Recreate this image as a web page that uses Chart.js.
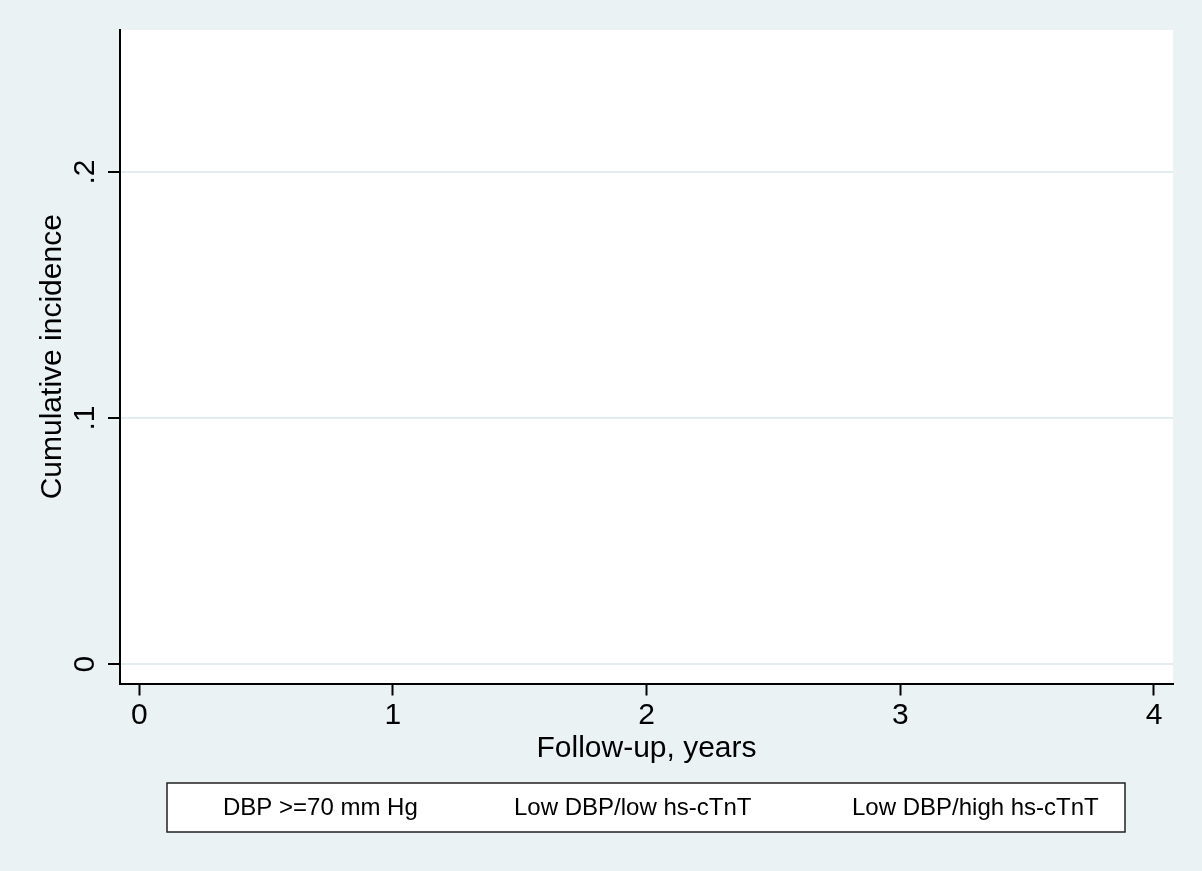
<!DOCTYPE html>
<html>
<head>
<meta charset="utf-8">
<title>Cumulative incidence</title>
<script src="https://cdn.jsdelivr.net/npm/chart.js@4/dist/chart.umd.min.js"></script>
<style>
  html, body { margin: 0; padding: 0; background: #eaf2f3; }
  canvas { display: block; }
</style>
</head>
<body>
<canvas id="cumChart" width="1202" height="871"></canvas>
<script>
// legend entries (the curves themselves are not drawn in the reference)
const groupLabels = ['DBP >=70 mm Hg', 'Low DBP/low hs-cTnT', 'Low DBP/high hs-cTnT'];
const dbpHigh = [];
const lowDbpLowTnt = [];
const lowDbpHighTnt = [];

const xTickVals = [0, 1, 2, 3, 4];
const xTickLabels = ['0', '1', '2', '3', '4'];
const yTickVals = [0, 0.1, 0.2];
const yTickLabels = ['0', '.1', '.2'];

const FONT = '"Liberation Sans", Arial, sans-serif';
const BG = '#eaf2f3';

// stata-ish background, rotated y labels and the boxed legend
const stataLook = {
    id: 'stataLook',
    beforeDraw(chart) {
        const { ctx, chartArea: a } = chart;
        ctx.save();
        ctx.fillStyle = BG;
        ctx.fillRect(0, 0, chart.width, chart.height);
        ctx.fillStyle = '#fff';
        ctx.fillRect(a.left, a.top, a.right - a.left, a.bottom - a.top);
        ctx.restore();
    },
    afterDraw(chart) {
        const { ctx } = chart;
        const y = chart.scales.y;
        ctx.save();
        ctx.fillStyle = '#000';
        ctx.font = '30px ' + FONT;
        ctx.textAlign = 'center';
        ctx.textBaseline = 'middle';
        y.ticks.forEach((t, i) => {
            ctx.save();
            ctx.translate(y.right - 34, y.getPixelForValue(t.value));
            ctx.rotate(-Math.PI / 2);
            ctx.fillText(yTickLabels[i], 0, 0);
            ctx.restore();
        });

        // legend box
        ctx.fillStyle = '#fff';
        ctx.fillRect(167, 783, 958, 49);
        ctx.strokeStyle = '#222';
        ctx.lineWidth = 1.5;
        ctx.strokeRect(167, 783, 958, 49);
        ctx.fillStyle = '#000';
        ctx.font = '24px ' + FONT;
        ctx.textAlign = 'left';
        const textX = [223, 514, 852];
        chart.data.datasets.forEach((ds, i) => {
            ctx.fillText(ds.label, textX[i], 808);
        });
        ctx.restore();
    }
};

new Chart(document.getElementById('cumChart'), {
    type: 'line',
    data: {
        datasets: [
            { label: groupLabels[0], data: dbpHigh, borderColor: '#1a476f', pointRadius: 0 },
            { label: groupLabels[1], data: lowDbpLowTnt, borderColor: '#90353b', pointRadius: 0 },
            { label: groupLabels[2], data: lowDbpHighTnt, borderColor: '#55752f', pointRadius: 0 }
        ]
    },
    options: {
        responsive: false,
        animation: false,
        devicePixelRatio: 1,
        layout: { padding: { left: 0, right: 29, top: 30, bottom: 0 } },
        plugins: {
            legend: { display: false },
            tooltip: { enabled: false }
        },
        scales: {
            x: {
                type: 'linear',
                min: -0.076,
                max: 4.075,
                afterBuildTicks: s => { s.ticks = xTickVals.map(v => ({ value: v })); },
                afterFit: s => { s.height = 187.5; },
                grid: { drawOnChartArea: false, drawTicks: true, tickLength: 12, tickColor: '#000', tickWidth: 2 },
                border: { display: true, color: '#000', width: 2 },
                ticks: {
                    color: '#000',
                    padding: 2.5,
                    maxRotation: 0,
                    font: { family: FONT, size: 30, lineHeight: 1.2 },
                    callback: (v, i) => xTickLabels[i]
                },
                title: {
                    display: true,
                    text: 'Follow-up, years',
                    color: '#000',
                    font: { family: FONT, size: 30, lineHeight: 1.2 },
                    padding: { top: 104, bottom: 104 }
                }
            },
            y: {
                type: 'linear',
                min: -0.0079,
                max: 0.2577,
                afterBuildTicks: s => { s.ticks = yTickVals.map(v => ({ value: v })); },
                afterFit: s => { s.width = 120; },
                grid: { color: '#e3edef', lineWidth: 2, drawTicks: true, tickLength: 12, tickColor: '#000', tickWidth: 2 },
                border: { display: true, color: '#000', width: 2 },
                ticks: { display: false },
                title: {
                    display: true,
                    text: 'Cumulative incidence',
                    color: '#000',
                    font: { family: FONT, size: 30, lineHeight: 1.2 },
                    padding: { top: 34.5, bottom: 34.5 }
                }
            }
        }
    },
    plugins: [stataLook]
});
</script>
</body>
</html>
